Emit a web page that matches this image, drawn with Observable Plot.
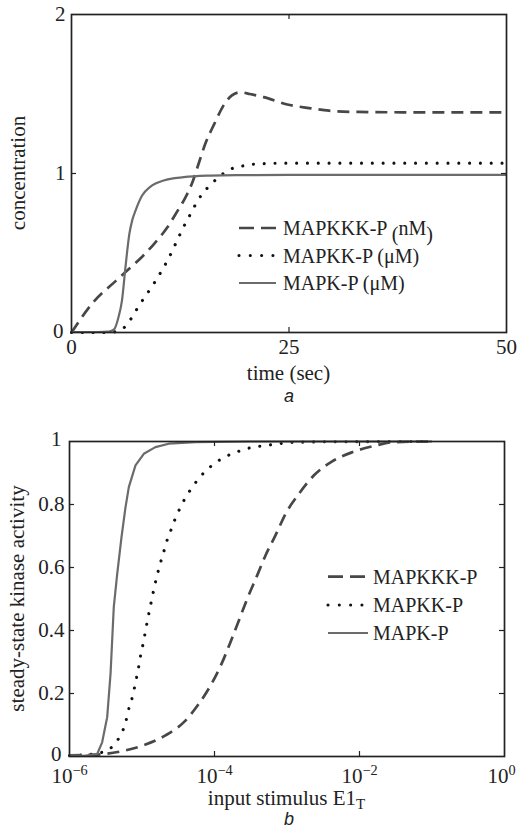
<!DOCTYPE html>
<html>
<head>
<meta charset="utf-8">
<script src="https://cdn.jsdelivr.net/npm/d3@7"></script>
<script src="https://cdn.jsdelivr.net/npm/@observablehq/plot@0.6"></script>
<style>
  html, body { margin: 0; padding: 0; background: #fff; }
  #wrap { position: relative; width: 517px; height: 830px; overflow: hidden; background: #fff; }
  .panel { position: absolute; left: 0; }
  .cap { position: absolute; width: 40px; text-align: center; font-family: "Liberation Sans", Arial, sans-serif;
         font-style: italic; font-size: 18px; line-height: 14px; color: #222; }
</style>
</head>
<body>
<div id="wrap">
  <div id="pa" class="panel" style="top:0px"></div>
  <div class="cap" style="left:269px; top:389px;">a</div>
  <div id="pb" class="panel" style="top:410px"></div>
  <div class="cap" style="left:269px; top:812px;">b</div>
</div>
<script>
// ---------------- Panel a: time course ----------------
const timeMAPKKK = [0, 2.5, 5, 6.4, 8, 9.5, 11, 12.1, 13.1, 13.9, 14.6, 15.4, 16.4, 17.5, 18.4, 19.4, 20.5, 22.1, 24.8, 27.5, 29.6, 33, 38, 44, 50];
const concMAPKKK = [0, 0.19, 0.32, 0.39, 0.47, 0.558, 0.66, 0.757, 0.85, 0.945, 1.06, 1.19, 1.31, 1.43, 1.49, 1.511, 1.50, 1.48, 1.434, 1.41, 1.395, 1.387, 1.385, 1.385, 1.385];

const timeMAPKK = [0, 4, 5, 5.8, 6.4, 7.1, 7.9, 9.5, 11, 13.1, 13.8, 14.4, 15.1, 16, 17, 18.1, 19.4, 20.7, 22.5, 25, 30, 40, 50];
const concMAPKK = [0, 0, 0.004, 0.02, 0.05, 0.11, 0.18, 0.31, 0.45, 0.687, 0.757, 0.82, 0.876, 0.93, 0.98, 1.023, 1.044, 1.057, 1.063, 1.065, 1.065, 1.065, 1.065];

const timeMAPK = [0, 3, 4.3, 4.9, 5.4, 5.8, 6.2, 6.65, 7.0, 7.36, 8.1, 9.08, 10.6, 12.9, 16, 19, 25, 35, 50];
const concMAPK = [0.003, 0.003, 0.006, 0.02, 0.096, 0.2, 0.41, 0.62, 0.71, 0.767, 0.86, 0.918, 0.956, 0.977, 0.987, 0.99, 0.991, 0.991, 0.991];

const xTicksA = [0, 25, 50];
const yTicksA = [1, 2];
const yTicksAShifted = [0];
const xInnerTicksA = [25];
const yInnerTicksA = [1];
const xLabelA = "time (sec)";
const yLabelA = "concentration";
const legendNamesA = ["MAPKKK-P", "MAPKK-P", "MAPK-P"];
const legendUnitsA = ["nM", "μM", "μM"];

// ---------------- Panel b: steady-state dose response ----------------
const stimMAPKKK = [1e-6, 2.41e-6, 5.33e-6, 1.12e-5, 2.11e-5, 3.78e-5, 6.07e-5, 8.81e-5, 1.25e-4, 1.66e-4, 2.17e-4, 2.82e-4, 3.88e-4, 5.05e-4, 6.93e-4, 9.53e-4, 1.46e-3, 2.34e-3, 4.20e-3, 7.94e-3, 1.66e-2, 2.97e-2, 0.1];
const actMAPKKK = [0.004, 0.006, 0.017, 0.038, 0.067, 0.109, 0.167, 0.225, 0.294, 0.363, 0.432, 0.5, 0.575, 0.638, 0.702, 0.77, 0.834, 0.892, 0.937, 0.966, 0.987, 0.998, 1.0];

const stimMAPKK = [1e-6, 1.78e-6, 3.14e-6, 4.22e-6, 5.16e-6, 5.92e-6, 6.44e-6, 7.16e-6, 7.80e-6, 8.39e-6, 9.03e-6, 9.62e-6, 1.04e-5, 1.11e-5, 1.19e-5, 1.28e-5, 1.38e-5, 1.49e-5, 1.62e-5, 1.78e-5, 1.98e-5, 2.20e-5, 2.49e-5, 2.83e-5, 3.29e-5, 3.89e-5, 4.78e-5, 5.89e-5, 7.52e-5, 1.0e-4, 1.37e-4, 1.95e-4, 2.76e-4, 3.95e-4, 5.74e-4, 8.32e-4, 1.20e-3, 3.16e-3, 0.1];
const actMAPKK = [0.003, 0.006, 0.017, 0.04, 0.072, 0.106, 0.144, 0.178, 0.214, 0.25, 0.286, 0.323, 0.36, 0.395, 0.432, 0.468, 0.505, 0.541, 0.576, 0.612, 0.647, 0.684, 0.717, 0.751, 0.785, 0.818, 0.85, 0.879, 0.906, 0.93, 0.95, 0.965, 0.977, 0.984, 0.989, 0.994, 0.997, 0.999, 1.0];

const stimMAPK = [1e-6, 1.58e-6, 2.41e-6, 2.82e-6, 3.31e-6, 3.68e-6, 4.08e-6, 4.55e-6, 5.21e-6, 5.92e-6, 6.58e-6, 8.13e-6, 1.06e-5, 1.53e-5, 2.34e-5, 5.47e-5, 3.16e-4, 0.1];
const actMAPK = [0.004, 0.002, 0.008, 0.045, 0.125, 0.262, 0.474, 0.58, 0.696, 0.791, 0.855, 0.924, 0.961, 0.982, 0.993, 0.998, 1.0, 1.0];

const xTickExponentsB = [-6, -4, -2, 0];
const yTicksB = [0.2, 0.4, 0.6, 0.8];
const yTicksBShifted = [0, 1];
const xInnerTicksB = [1e-4, 1e-2];
const yInnerTicksB = [0.2, 0.4, 0.6, 0.8];
const xLabelB = "input stimulus E1";
const xLabelSubB = "T";
const yLabelB = "steady-state kinase activity";
const legendNamesB = ["MAPKKK-P", "MAPKK-P", "MAPK-P"];

// ---------------- styles ----------------
const serif = "'Liberation Serif', 'DejaVu Serif', 'Times New Roman', serif";
const ink = "#222";
const seriesStyle = [
  {stroke: "#474747", strokeWidth: 2.7, strokeDasharray: "12,7", strokeLinecap: "butt", legendDash: "15,7"},
  {stroke: "#111111", strokeWidth: 3.1, strokeDasharray: "0.01,10.8", strokeLinecap: "round", legendDash: "0.01,11.3"},
  {stroke: "#6b6b6b", strokeWidth: 2.2, strokeDasharray: null, strokeLinecap: "butt", legendDash: null}
];

function zipRows(xs, ys) { return xs.map((x, i) => ({x, y: ys[i]})); }

function lineMark(rows, s, curve) {
  const o = {x: "x", y: "y", stroke: s.stroke, strokeWidth: s.strokeWidth, strokeLinecap: s.strokeLinecap, curve};
  if (s.strokeDasharray) o.strokeDasharray = s.strokeDasharray;
  return Plot.line(rows, o);
}

function innerTicks(xInner, yInner, W, H, tl) {
  return [
    Plot.tickX(xInner, {x: d => d, insetTop: H - tl, stroke: ink, strokeWidth: 1.2}),
    Plot.tickX(xInner, {x: d => d, insetBottom: H - tl, stroke: ink, strokeWidth: 1.2}),
    Plot.tickY(yInner, {y: d => d, insetRight: W - tl, stroke: ink, strokeWidth: 1.2}),
    Plot.tickY(yInner, {y: d => d, insetLeft: W - tl, stroke: ink, strokeWidth: 1.2})
  ];
}

function addLegend(svg, x1, x2, tx, ys, builders) {
  const g = d3.select(svg).append("g").attr("font-family", serif).attr("font-size", 20)
    .attr("fill", ink).attr("text-anchor", "start");
  ys.forEach((y, i) => {
    const s = seriesStyle[i];
    const ln = g.append("line").attr("x1", x1).attr("x2", x2).attr("y1", y).attr("y2", y)
      .attr("stroke", s.stroke).attr("stroke-width", s.strokeWidth).attr("stroke-linecap", s.strokeLinecap);
    if (s.legendDash) ln.attr("stroke-dasharray", s.legendDash);
    const t = g.append("text").attr("x", tx).attr("y", y + 7).attr("text-anchor", "start");
    builders[i](t);
  });
}

function addText(svg, str, x, y, rotate) {
  const t = d3.select(svg).append("text")
    .attr("font-family", serif).attr("font-size", 21).attr("fill", ink).attr("text-anchor", "middle")
    .attr("transform", `translate(${x},${y})` + (rotate ? ` rotate(${rotate})` : ""));
  t.append("tspan").text(str);
  return t;
}

// ---------------- Panel a ----------------
{
  const W = 517, Hs = 390, mt = 14, mb = 58, ml = 71, mr = 11;
  const iw = W - ml - mr, ih = Hs - mt - mb;
  const plotA = Plot.plot({
    width: W, height: Hs, marginTop: mt, marginBottom: mb, marginLeft: ml, marginRight: mr,
    style: {fontFamily: serif, fontSize: "21px", color: ink, background: "transparent", overflow: "visible"},
    x: {domain: [0, 50]},
    y: {domain: [0, 2]},
    marks: [
      lineMark(zipRows(timeMAPKK, concMAPKK), seriesStyle[1], "monotone-x"),
      lineMark(zipRows(timeMAPKKK, concMAPKKK), seriesStyle[0], "monotone-x"),
      lineMark(zipRows(timeMAPK, concMAPK), seriesStyle[2], "monotone-x"),
      ...innerTicks(xInnerTicksA, yInnerTicksA, iw, ih, 5),
      Plot.frame({stroke: ink, strokeWidth: 1.7}),
      Plot.axisX({ticks: xTicksA, tickSize: 0, tickPadding: 7, label: null, tickFormat: d => String(d)}),
      Plot.axisY({ticks: yTicksA, tickSize: 0, tickPadding: 6, label: null, tickFormat: d => String(d)}),
      Plot.axisY({ticks: yTicksAShifted, tickSize: 0, tickPadding: 8, dy: -1, label: null, tickFormat: d => String(d)})
    ]
  });
  document.getElementById("pa").appendChild(plotA);
  addText(plotA, xLabelA, ml + iw / 2, 380);
  addText(plotA, yLabelA, 25, mt + ih / 2, -90);
  addLegend(plotA, 239, 276, 283, [228, 255.5, 283], [
    t => { t.append("tspan").text(legendNamesA[0] + " ");
           t.append("tspan").attr("dy", 6).text("(");
           t.append("tspan").attr("dy", -6).text(legendUnitsA[0]);
           t.append("tspan").attr("dy", 6).text(")"); },
    t => { t.text(`${legendNamesA[1]} (${legendUnitsA[1]})`); },
    t => { t.text(`${legendNamesA[2]} (${legendUnitsA[2]})`); }
  ]);
}

// ---------------- Panel b ----------------
{
  const W = 517, Hs = 405, mt = 31, mb = 59, ml = 69, mr = 13;
  const iw = W - ml - mr, ih = Hs - mt - mb;
  const xTicksB = xTickExponentsB.map(e => Math.pow(10, e));
  const plotB = Plot.plot({
    width: W, height: Hs, marginTop: mt, marginBottom: mb, marginLeft: ml, marginRight: mr,
    style: {fontFamily: serif, fontSize: "21px", color: ink, background: "transparent", overflow: "visible"},
    x: {type: "log", domain: [1e-6, 1]},
    y: {domain: [0, 1]},
    marks: [
      lineMark(zipRows(stimMAPKK, actMAPKK), seriesStyle[1], "monotone-x"),
      lineMark(zipRows(stimMAPKKK, actMAPKKK), seriesStyle[0], "monotone-x"),
      lineMark(zipRows(stimMAPK, actMAPK), seriesStyle[2], "linear"),
      ...innerTicks(xInnerTicksB, yInnerTicksB, iw, ih, 5),
      Plot.frame({stroke: ink, strokeWidth: 1.7}),
      Plot.axisX({ticks: xTicksB, tickSize: 0, tickPadding: 12, label: null,
        tickFormat: d => { const e = Math.round(Math.log10(d)); return "10|" + (e < 0 ? "\u2212" + (-e) : String(e)); }}),
      Plot.axisY({ticks: yTicksB, tickSize: 0, tickPadding: 5, label: null, tickFormat: d => String(d)}),
      Plot.axisY({ticks: yTicksBShifted, tickSize: 0, tickPadding: 8, dy: -2, label: null, tickFormat: d => String(d)})
    ]
  });
  document.getElementById("pb").appendChild(plotB);
  const labels = d3.select(plotB).selectAll('g[aria-label="x-axis tick label"] text');
  const n = labels.size();
  labels.each(function (d, i) {
    const parts = this.textContent.split("|");
    const t = d3.select(this);
    t.text(null);
    t.append("tspan").text(parts[0]);
    t.append("tspan").attr("dy", "-0.6em").attr("font-size", "0.68em").text(parts[1]);
    if (i === n - 1) t.attr("dx", -3);
  });
  const xl = addText(plotB, xLabelB, ml + iw / 2, 395);
  xl.append("tspan").attr("dy", 4).attr("font-size", 15).text(xLabelSubB);
  addText(plotB, yLabelB, 24, mt + ih / 2, -90);
  addLegend(plotB, 328, 368, 373, [166.7, 195, 223], [
    t => { t.text(legendNamesB[0]); },
    t => { t.text(legendNamesB[1]); },
    t => { t.text(legendNamesB[2]); }
  ]);
}
</script>
</body>
</html>
